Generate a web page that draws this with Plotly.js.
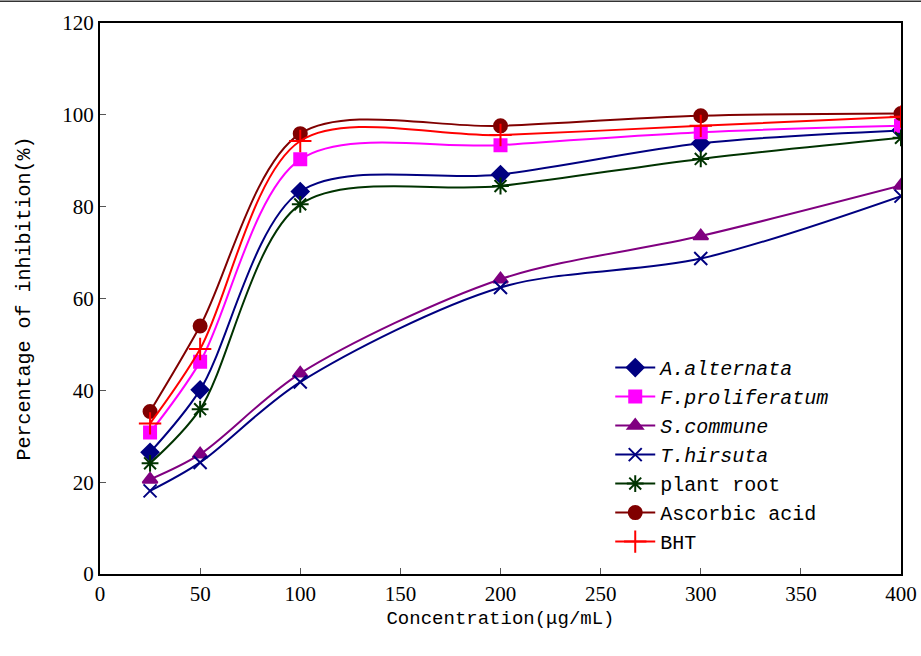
<!DOCTYPE html>
<html>
<head>
<meta charset="utf-8">
<script src="https://cdn.plot.ly/plotly-3.0.1.min.js"></script>
<style>html,body{margin:0;padding:0;background:#fff;}#chart{width:921px;height:656px;}</style>
</head>
<body>
<div id="chart"></div>
<script>
const concentration = [25, 50, 100, 200, 300, 400];
const aAlternata    = [26.5, 40.1, 83.3, 87.0, 93.8, 96.6];
const fProliferatum = [30.8, 46.2, 90.3, 93.4, 96.2, 97.6];
const sCommune      = [20.6, 26.1, 43.7, 64.2, 73.6, 84.6];
const tHirsuta      = [18.1, 24.3, 41.8, 62.4, 68.7, 82.3];
const plantRoot     = [24.1, 35.9, 80.5, 84.5, 90.4, 95.0];
const ascorbicAcid  = [35.4, 54.0, 95.9, 97.6, 99.8, 100.3];
const bht           = [32.8, 49.0, 94.3, 95.6, 97.6, 99.6];
const seriesNames = ['<i>A.alternata</i>', '<i>F.proliferatum</i>', '<i>S.commune</i>', '<i>T.hirsuta</i>', 'plant root', 'Ascorbic acid', 'BHT'];
const xTicks = [0, 50, 100, 150, 200, 250, 300, 350, 400];
const yTicks = [0, 20, 40, 60, 80, 100, 120];

const styles = [
  {color: '#000080', symbol: 'diamond', size: 13},
  {color: '#FF00FF', symbol: 'square', size: 12},
  {color: '#800080', symbol: 'triangle-up', size: 13},
  {color: '#000080', symbol: 'x-thin-open', size: 13},
  {color: '#003300', symbol: 'asterisk-open', size: 14},
  {color: '#800000', symbol: 'circle', size: 13},
  {color: '#FF0000', symbol: 'cross-thin-open', size: 16}
];
const values = [aAlternata, fProliferatum, sCommune, tHirsuta, plantRoot, ascorbicAcid, bht];

const traces = values.map((v, i) => ({
  x: concentration,
  y: v,
  name: seriesNames[i],
  type: 'scatter',
  mode: 'lines+markers',
  line: {color: styles[i].color, width: 2, shape: 'spline', smoothing: 0.9},
  marker: {color: styles[i].color, symbol: styles[i].symbol, size: styles[i].size,
           line: {color: styles[i].color, width: 2}}
}));

const layout = {
  width: 921, height: 656,
  margin: {l: 100, r: 20, t: 23, b: 82},
  paper_bgcolor: '#fff', plot_bgcolor: '#fff',
  showlegend: true,
  legend: {
    x: 0.637, y: 0.41, xanchor: 'left', yanchor: 'top',
    font: {family: 'Liberation Mono, monospace', size: 20, color: '#000'},
    bgcolor: 'rgba(0,0,0,0)', borderwidth: 0, tracegroupgap: 0, itemwidth: 40
  },
  xaxis: {
    range: [0, 400], tickvals: xTicks, ticktext: xTicks.map(String),
    ticks: 'inside', ticklen: 6, tickcolor: '#555', tickwidth: 1,
    showline: true, linecolor: '#000', linewidth: 2, mirror: true,
    showgrid: false, zeroline: false,
    tickfont: {family: 'Liberation Serif, serif', size: 21, color: '#000'},
    title: {text: 'Concentration(μg/mL)', standoff: 5,
            font: {family: 'Liberation Mono, monospace', size: 19, color: '#000'}}
  },
  yaxis: {
    range: [0, 120], tickvals: yTicks, ticktext: yTicks.map(String),
    ticks: 'inside', ticklen: 6, tickcolor: '#555', tickwidth: 1,
    showline: true, linecolor: '#000', linewidth: 2, mirror: true,
    showgrid: false, zeroline: false,
    tickfont: {family: 'Liberation Serif, serif', size: 21, color: '#000'},
    title: {text: 'Percentage of inhibition(%)', standoff: 26,
            font: {family: 'Liberation Mono, monospace', size: 20, color: '#000'}}
  },
  shapes: [
    {type: 'line', xref: 'paper', yref: 'paper', x0: -0.2, x1: 1.1, y0: 1.0395, y1: 1.0395,
     line: {color: '#333', width: 1.5}}
  ]
};

Plotly.newPlot('chart', traces, layout, {displayModeBar: false, staticPlot: true});
</script>
</body>
</html>
